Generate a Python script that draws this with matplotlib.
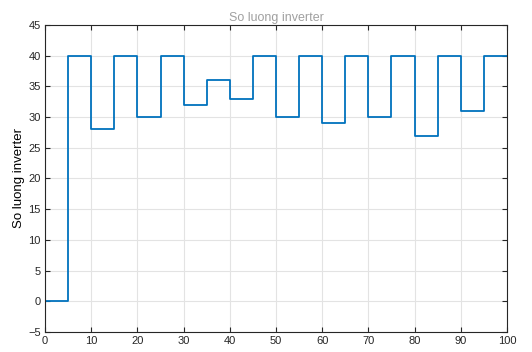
import matplotlib
matplotlib.use('Agg')
import matplotlib.pyplot as plt

plt.rcParams['font.family'] = ['Liberation Sans', 'DejaVu Sans']

# step start times and the count held from each one
t = [0, 5, 10, 15, 20, 25, 30, 35, 40, 45, 50, 55, 60, 65, 70, 75, 80, 85, 90, 95, 100]
so_luong = [0, 40, 28, 40, 30, 40, 32, 36, 33, 40, 30, 40, 29, 40, 30, 40, 27, 40, 31, 40, 40]

fig = plt.figure(figsize=(5.32, 3.52), dpi=100)
ax = fig.add_axes([0.0846, 0.0568, 0.953 - 0.0846, 0.929 - 0.0568])

ax.step(t, so_luong, where='post', color='#0072BD', linewidth=1.3)

ax.set_xlim(0, 100)
ax.set_ylim(-5, 45)
ax.set_xticks(range(0, 101, 10))
ax.set_yticks(range(-5, 46, 5))
ax.grid(True, color='#e3e3e3', linewidth=0.8)
ax.set_axisbelow(True)

ax.tick_params(direction='in', top=True, right=True, length=3.5, width=0.8,
               labelsize=8, colors='#262626', pad=3)
for s in ax.spines.values():
    s.set_color('#262626')
    s.set_linewidth(0.8)

ax.set_title('So luong inverter', fontsize=9, color='#a0a0a0', pad=3)
ax.set_ylabel('So luong inverter', fontsize=9.5, color='black', labelpad=2)

fig.savefig('out.png', dpi=100)
plt.close(fig)
